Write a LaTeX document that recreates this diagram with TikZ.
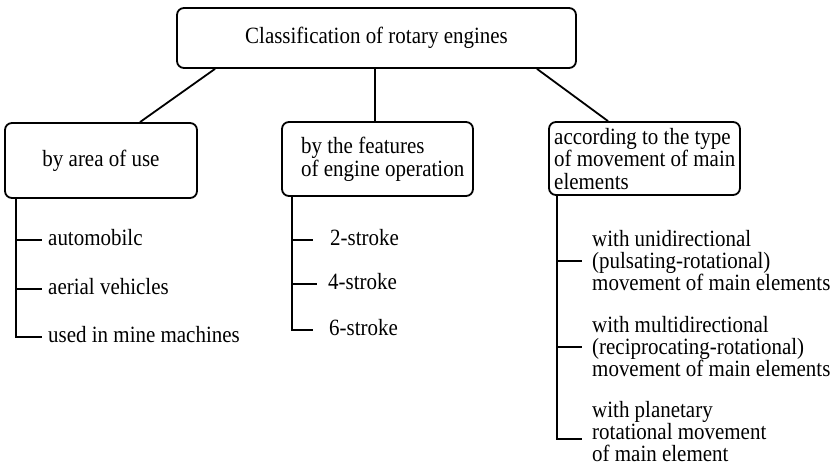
\documentclass[tikz,border=0pt]{standalone}
\usepackage{fontspec}
\setmainfont{Liberation Serif}[FakeStretch=0.9]
\begin{document}
\begin{tikzpicture}[x=1pt,y=-1pt,
  box/.style={draw, line width=1.8pt, rounded corners=7pt, inner sep=0pt,
              font=\fontsize{23.3}{22}\selectfont},
  txt/.style={inner sep=0pt, anchor=west, align=left},
  leaf/.style={txt, font=\fontsize{23.3}{22}\selectfont, text height=15pt, text depth=4pt},
  mleaf/.style={txt, font=\fontsize{23.3}{22}\selectfont},
  link/.style={line width=1.8pt}]
\useasboundingbox (0,0) rectangle (835,470);

% boxes
\node[box, minimum width=399pt, minimum height=60pt] (top) at (376.5,38) {Classification of rotary engines};
\node[box, minimum width=192pt, minimum height=75pt] (lbox) at (101,160.5) {by area of use};
\node[box, minimum width=191pt, minimum height=74pt] (mbox) at (377.5,159) {};
\node[box, minimum width=191pt, minimum height=73pt] (rbox) at (644.5,158.5) {};
\node[txt, font=\fontsize{23.3}{23}\selectfont] (mtxt) at (301,159) {by the features\\of engine operation};
\node[txt, font=\fontsize{23.3}{22.5}\selectfont] (rtxt) at (554,159) {according to the type\\of movement of main\\elements};

% top connectors
\draw[link] ([xshift=-161.5pt]top.south) -- ([xshift=39pt]lbox.north);
\draw[link] ([xshift=-1.5pt]top.south) -- ([xshift=-2.5pt]mbox.north);
\draw[link] ([xshift=160.5pt]top.south) -- ([xshift=-36.5pt]rbox.north);

% left leaves
\node[leaf] (a1) at (48,240) {automobilc};
\node[leaf] (a2) at (48,289) {aerial vehicles};
\node[leaf] (a3) at (48,337) {used in mine machines};
\coordinate (ls) at ([xshift=12pt]lbox.south west);
\draw[link, shorten >=6pt] (ls) |- (a3.west);
\draw[link, shorten >=6pt] (ls |- a1.west) -- (a1.west);
\draw[link, shorten >=6pt] (ls |- a2.west) -- (a2.west);

% middle leaves
\node[leaf] (b1) at (330,240) {2-stroke};
\node[leaf] (b2) at (328,284) {4-stroke};
\node[leaf] (b3) at (329,330) {6-stroke};
\coordinate (ms) at ([xshift=11pt]mbox.south west);
\draw[link, shorten >=16pt] (ms) |- (b3.west);
\draw[link, shorten >=17pt] (ms |- b1.west) -- (b1.west);
\draw[link, shorten >=11pt] (ms |- b2.west) -- (b2.west);

% right leaves
\node[mleaf] (c1) at (592,261) {with unidirectional\\(pulsating-rotational)\\movement of main elements};
\node[mleaf] (c2) at (592,347) {with multidirectional\\(reciprocating-rotational)\\movement of main elements};
\node[mleaf] (c3) at (592,432) {with planetary\\rotational movement\\of main element};
\coordinate (rs) at ([xshift=9pt]rbox.south west);
\coordinate (c3c) at ([yshift=-7pt]c3.west);
\draw[link, shorten >=10pt] (rs) |- (c3c);
\draw[link, shorten >=10pt] (rs |- c1.west) -- (c1.west);
\draw[link, shorten >=10pt] (rs |- c2.west) -- (c2.west);
\end{tikzpicture}
\end{document}
